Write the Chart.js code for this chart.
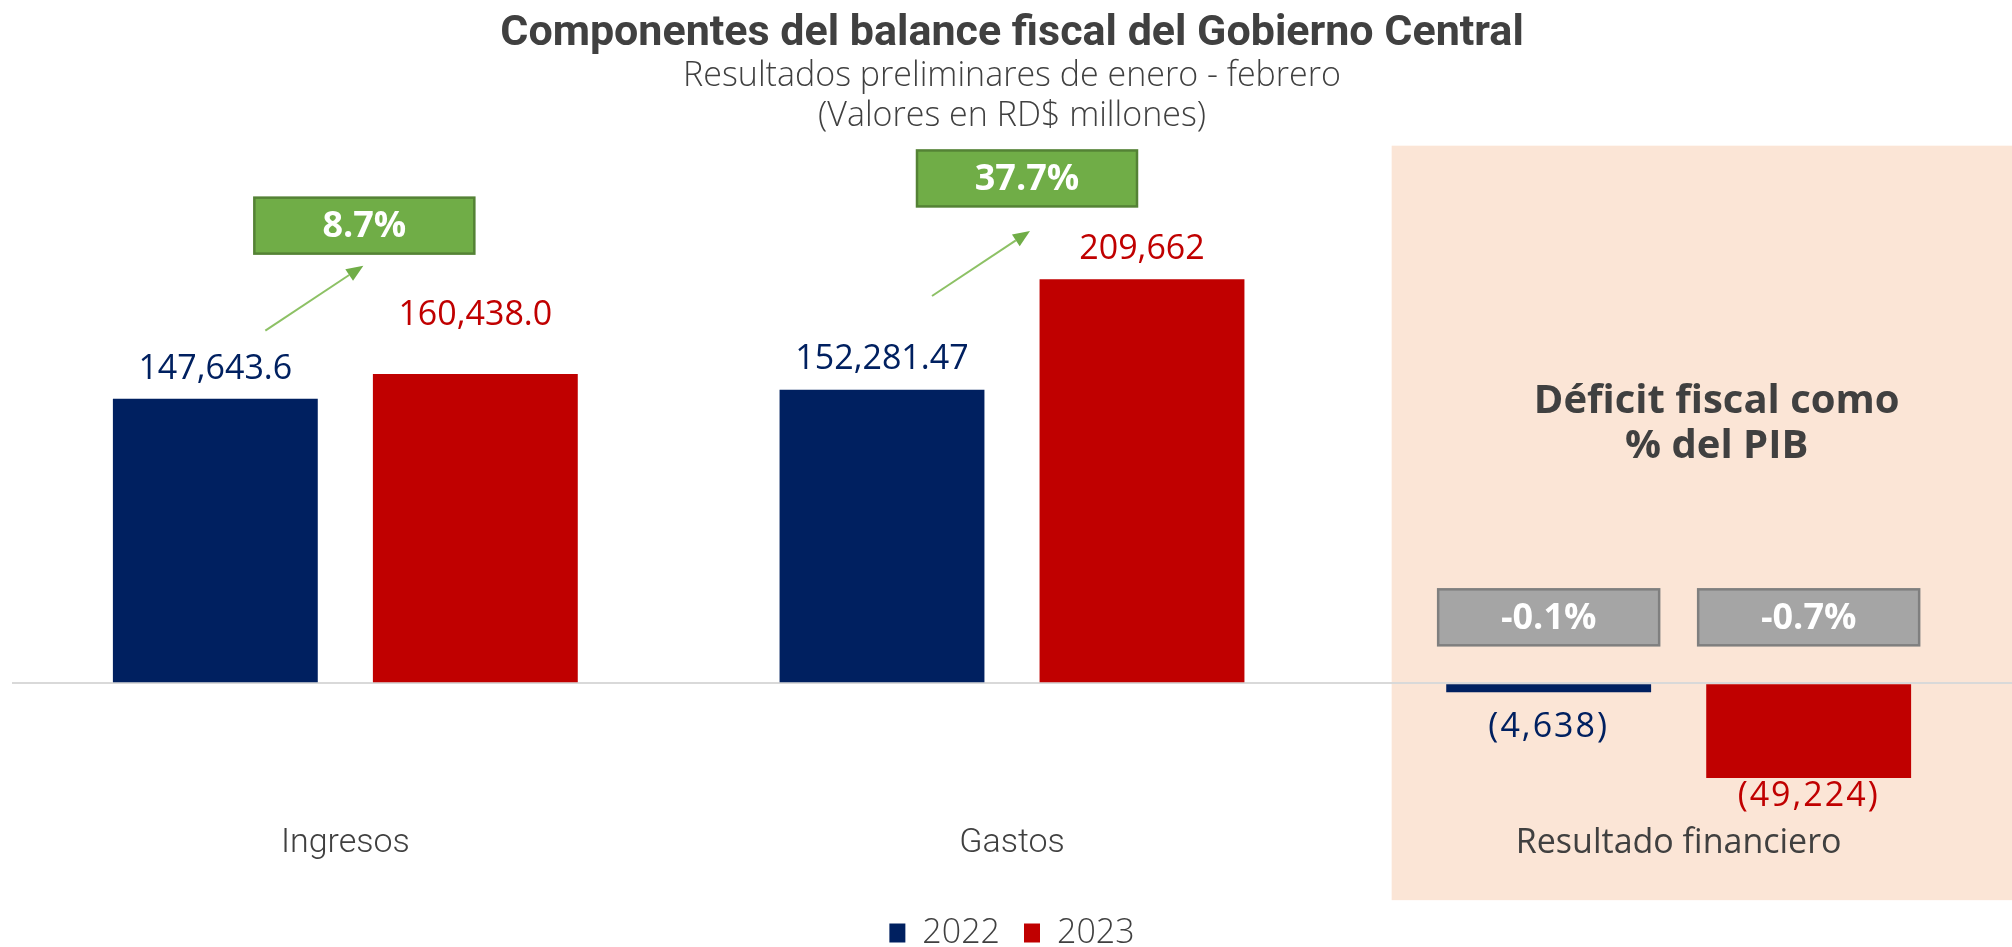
<!DOCTYPE html>
<html>
<head>
<meta charset="utf-8">
<script src="https://cdn.jsdelivr.net/npm/chart.js@4.4.1/dist/chart.umd.min.js"></script>
<style>
  html, body { margin: 0; padding: 0; background: #fff; overflow: hidden; }
  #wrap { width: 2012px; height: 947px; }
</style>
</head>
<body>
<div id="wrap"><canvas id="myChart"></canvas></div>
<script>
const categories = ['Ingresos', 'Gastos', 'Resultado financiero'];
const years = ['2022', '2023'];
const values2022 = [147643.6, 152281.47, -4638];
const values2023 = [160438.0, 209662, -49224];
// decimales con que se publica cada cifra
const decimals2022 = [1, 2, 0];
const decimals2023 = [1, 0, 0];
const growthLabels = ['8.7%', '37.7%'];
const deficitPibLabels = ['-0.1%', '-0.7%'];

const NAVY = '#002060';
const RED = '#C00000';
const TEXT = '#404040';
const NARROW = 'Roboto, sans-serif';
const WIDE = '"Open Sans", sans-serif';

function fmt(v, dec) {
  const s = Math.abs(v).toLocaleString('en-US', { minimumFractionDigits: dec, maximumFractionDigits: dec });
  return v < 0 ? '(' + s + ')' : s;
}

function labelBox(ctx, cx, cy, w, h, fill, stroke, text) {
  ctx.fillStyle = fill;
  ctx.fillRect(cx - w / 2, cy - h / 2, w, h);
  ctx.strokeStyle = stroke;
  ctx.lineWidth = 2.5;
  ctx.strokeRect(cx - w / 2, cy - h / 2, w, h);
  ctx.fillStyle = '#fff';
  ctx.font = 'bold 36px ' + WIDE;
  ctx.textAlign = 'center';
  ctx.textBaseline = 'middle';
  ctx.fillText(text, cx, cy + 1);
}

function arrow(ctx, x0, y0, x1, y1) {
  const ang = Math.atan2(y1 - y0, x1 - x0);
  const head = 17;
  ctx.strokeStyle = '#8DC165';
  ctx.fillStyle = '#70AD47';
  ctx.lineWidth = 2;
  ctx.beginPath();
  ctx.moveTo(x0, y0);
  ctx.lineTo(x1 - head * Math.cos(ang), y1 - head * Math.sin(ang));
  ctx.stroke();
  ctx.beginPath();
  ctx.moveTo(x1, y1);
  ctx.lineTo(x1 - head * Math.cos(ang) + 7 * Math.sin(ang), y1 - head * Math.sin(ang) - 7 * Math.cos(ang));
  ctx.lineTo(x1 - head * Math.cos(ang) - 7 * Math.sin(ang), y1 - head * Math.sin(ang) + 7 * Math.cos(ang));
  ctx.closePath();
  ctx.fill();
}

const fiscalAnnotations = {
  id: 'fiscalAnnotations',
  beforeDraw(chart, args, opts) {
    const { ctx, scales: { x, y } } = chart;
    const left = x.getPixelForValue(2) - opts.shadeHalfWidth;
    const top = y.getPixelForValue(opts.shadeTop);
    const bottom = y.getPixelForValue(opts.shadeBottom);
    ctx.save();
    ctx.fillStyle = '#FBE5D6';
    ctx.fillRect(left, top, chart.width - left, bottom - top);
    ctx.restore();
  },
  afterDatasetsDraw(chart, args, opts) {
    const { ctx, scales: { x, y } } = chart;
    const decimals = [decimals2022, decimals2023];
    ctx.save();

    // cifras sobre / bajo cada barra
    chart.data.datasets.forEach((ds, d) => {
      chart.getDatasetMeta(d).data.forEach((bar, i) => {
        const v = ds.data[i];
        const off = opts.labelOffset[d][i];
        ctx.fillStyle = ds.backgroundColor;
        ctx.font = '34px ' + WIDE;
        ctx.letterSpacing = v < 0 ? '2px' : '0px';
        ctx.textAlign = 'center';
        ctx.textBaseline = 'alphabetic';
        ctx.fillText(fmt(v, decimals[d][i]), bar.x, v >= 0 ? bar.y - off : bar.y + off);
      });
    });
    ctx.letterSpacing = '0px';

    // variación interanual de ingresos y gastos
    growthLabels.forEach((t, i) => {
      const cx = x.getPixelForValue(i);
      const y0 = y.getPixelForValue(opts.arrowFrom[i]);
      arrow(ctx, cx - 80, y0, cx + 18, y0 - 65);
      labelBox(ctx, cx + opts.growthDx[i], y.getPixelForValue(opts.growthY[i]), 220, 56, '#70AD47', '#548235', t);
    });

    // déficit como % del PIB
    const noteX = x.getPixelForValue(2) + opts.noteDx;
    ctx.fillStyle = TEXT;
    ctx.font = 'bold 40px ' + WIDE;
    ctx.textAlign = 'center';
    ctx.textBaseline = 'alphabetic';
    ctx.fillText('Déficit fiscal como', noteX, y.getPixelForValue(opts.noteY[0]));
    ctx.fillText('% del PIB', noteX, y.getPixelForValue(opts.noteY[1]));

    deficitPibLabels.forEach((t, d) => {
      const bar = chart.getDatasetMeta(d).data[2];
      labelBox(ctx, bar.x, y.getPixelForValue(opts.pibY), 221, 56, '#A5A5A5', '#7F7F7F', t);
    });
    ctx.restore();
  }
};

const config = {
  type: 'bar',
  data: {
    labels: categories,
    datasets: [
      { label: years[0], data: values2022, backgroundColor: NAVY },
      { label: years[1], data: values2023, backgroundColor: RED }
    ]
  },
  options: {
    responsive: true,
    maintainAspectRatio: false,
    animation: false,
    categoryPercentage: 0.78,
    barPercentage: 0.788,
    layout: { padding: { left: 12, right: 0, top: 4, bottom: -13 } },
    scales: {
      x: {
        grid: { display: false, drawTicks: false },
        border: { display: false },
        ticks: {
          color: TEXT,
          padding: 3,
          font: (c) => c.index === 2
            ? { family: WIDE, size: 34 }
            : { family: NARROW, size: 34, weight: 300 }
        },
        // espacio en blanco entre las categorías y la leyenda
        title: { display: true, text: ' ', font: { size: 10, lineHeight: 1.2 }, padding: { top: 0, bottom: 13 } }
      },
      y: {
        min: -71100,
        max: 283900,
        afterBuildTicks: (axis) => { axis.ticks = [{ value: 0 }]; },
        ticks: { display: false },
        border: { display: false },
        grid: { color: '#D9D9D9', lineWidth: 2, drawTicks: false }
      }
    },
    plugins: {
      title: {
        display: true,
        text: 'Componentes del balance fiscal del Gobierno Central',
        color: TEXT,
        font: { family: NARROW, size: 43, weight: 'bold', lineHeight: 1 },
        padding: { top: 9, bottom: 0 }
      },
      subtitle: {
        display: true,
        text: ['Resultados preliminares de enero - febrero', '(Valores en RD$ millones)'],
        color: TEXT,
        font: { family: WIDE, size: 34, weight: 300, lineHeight: 1.18 },
        padding: { top: 0, bottom: 0 }
      },
      legend: {
        position: 'bottom',
        labels: {
          color: TEXT,
          boxWidth: 16,
          boxHeight: 19,
          padding: 24,
          font: { family: WIDE, size: 34, weight: 300 }
        }
      },
      tooltip: { enabled: false },
      fiscalAnnotations: {
        shadeHalfWidth: 287,
        shadeTop: 279000,
        shadeBottom: -112600,
        labelOffset: [[20, 21, 45], [49, 20, 28]],
        growthY: [237500, 262000],
        growthDx: [19, 15],
        arrowFrom: [183000, 201000],
        noteDx: 38,
        noteY: [140100, 116800],
        pibY: 34200
      }
    }
  },
  plugins: [fiscalAnnotations]
};

const ctx = document.getElementById('myChart').getContext('2d');
const chart = new Chart(ctx, config);
</script>
</body>
</html>
